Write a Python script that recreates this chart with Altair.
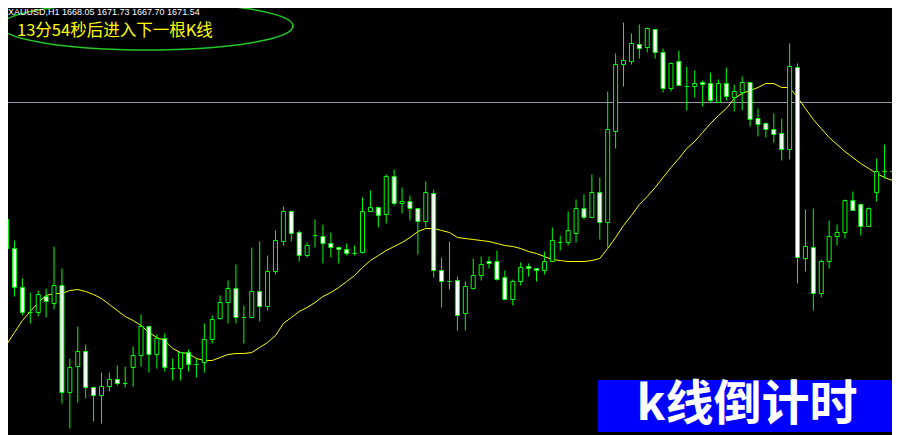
import altair as alt
import pandas as pd

# ---- data (XAUUSD H1 candles, left to right) ----
opens = [1666.1, 1663.2, 1659.3, 1656.8, 1656.8, 1658.4, 1657.7, 1659.5, 1648.8, 1651.4,
         1652.9, 1649.3, 1648.5, 1649.4, 1650.1, 1649.7, 1651.3, 1652.5, 1655.4, 1652.6,
         1654.2, 1651.2, 1651.2, 1652.8, 1651.6, 1651.8, 1654.1, 1656.2, 1657.8, 1659.2,
         1656.3, 1656.3, 1658.9, 1657.4, 1660.9, 1663.9, 1666.9, 1664.8, 1662.5, 1664.5,
         1664.4, 1663.7, 1663.3, 1663.1, 1662.7, 1662.8, 1666.9, 1667.3, 1666.6, 1670.4,
         1667.7, 1667.9, 1667.2, 1665.9, 1668.7, 1661.0, 1659.9, 1660.0, 1656.7, 1659.2,
         1660.5, 1661.9, 1661.9, 1660.3, 1658.1, 1659.9, 1661.4, 1661.2, 1661.0, 1661.9,
         1663.8, 1663.8, 1664.7, 1667.2, 1666.3, 1668.8, 1665.8, 1674.9, 1681.6, 1681.9,
         1683.6, 1683.3, 1685.1, 1682.8, 1679.2, 1681.9, 1679.4, 1679.4, 1679.8, 1679.7,
         1677.8, 1679.7, 1678.3, 1678.8, 1679.8, 1676.2, 1675.7, 1675.1, 1674.7, 1673.1,
         1681.3, 1662.2, 1663.3, 1658.7, 1661.9, 1664.4, 1664.8, 1668.0, 1667.6, 1665.4,
         1668.8, 1670.9, 1670.9]
highs = [1666.7, 1664.0, 1660.2, 1658.8, 1659.0, 1659.2, 1663.4, 1661.2, 1652.2, 1655.4,
         1653.6, 1649.4, 1650.8, 1650.8, 1651.5, 1651.4, 1653.4, 1656.6, 1655.5, 1654.6,
         1654.7, 1652.2, 1652.8, 1653.1, 1652.2, 1655.7, 1656.5, 1658.5, 1660.0, 1661.6,
         1657.5, 1663.3, 1663.9, 1662.5, 1665.0, 1667.4, 1667.0, 1665.0, 1663.8, 1666.1,
         1665.6, 1664.8, 1663.4, 1663.7, 1663.5, 1668.3, 1669.0, 1667.3, 1670.6, 1671.1,
         1669.3, 1668.5, 1667.2, 1669.9, 1669.1, 1662.3, 1663.9, 1660.4, 1659.9, 1662.2,
         1662.4, 1662.4, 1663.0, 1661.0, 1660.1, 1661.8, 1661.7, 1661.2, 1662.9, 1665.3,
         1664.5, 1666.9, 1668.1, 1668.6, 1670.6, 1670.3, 1678.9, 1682.7, 1685.8, 1684.7,
         1685.6, 1685.3, 1685.1, 1683.2, 1681.8, 1683.0, 1681.4, 1681.0, 1680.0, 1680.8,
         1680.1, 1681.3, 1679.6, 1680.4, 1679.8, 1677.2, 1675.8, 1676.7, 1676.2, 1683.7,
         1681.7, 1667.1, 1667.2, 1662.1, 1666.0, 1665.6, 1668.1, 1668.9, 1667.7, 1667.3,
         1672.2, 1673.6, 1671.7]
lows = [1663.0, 1658.4, 1656.5, 1655.7, 1656.4, 1656.3, 1657.1, 1647.7, 1645.2, 1647.8,
        1648.2, 1645.9, 1645.7, 1648.9, 1649.5, 1649.3, 1649.4, 1651.4, 1650.8, 1651.2,
        1650.9, 1650.0, 1650.0, 1650.9, 1650.3, 1650.8, 1653.7, 1656.1, 1655.7, 1655.7,
        1653.7, 1656.3, 1655.9, 1657.0, 1660.6, 1663.5, 1663.9, 1661.9, 1662.3, 1663.3,
        1661.7, 1662.3, 1661.7, 1662.5, 1662.5, 1662.7, 1666.9, 1665.3, 1665.7, 1667.5,
        1666.7, 1666.0, 1662.6, 1665.3, 1660.3, 1657.3, 1659.1, 1655.0, 1655.0, 1659.1,
        1660.0, 1661.2, 1660.0, 1658.1, 1657.5, 1659.5, 1660.4, 1659.9, 1660.6, 1661.9,
        1663.0, 1663.5, 1663.8, 1666.1, 1666.3, 1664.1, 1663.3, 1673.2, 1679.4, 1681.6,
        1682.2, 1682.8, 1682.2, 1678.8, 1678.9, 1679.5, 1677.0, 1678.3, 1677.4, 1677.8,
        1677.8, 1678.0, 1676.9, 1677.0, 1675.4, 1674.4, 1674.3, 1673.8, 1672.0, 1672.1,
        1659.7, 1660.9, 1657.0, 1658.3, 1661.2, 1663.5, 1664.2, 1667.0, 1664.5, 1665.4,
        1667.9, 1670.2, 1668.3]
closes = [1663.2, 1659.3, 1656.8, 1656.8, 1658.6, 1657.9, 1659.5, 1648.8, 1651.3, 1652.9,
          1649.3, 1648.5, 1649.4, 1650.1, 1649.7, 1649.7, 1652.5, 1655.4, 1652.6, 1654.2,
          1651.3, 1651.2, 1652.8, 1651.6, 1651.6, 1654.1, 1656.1, 1657.8, 1659.2, 1656.3,
          1656.3, 1658.9, 1657.4, 1660.9, 1664.0, 1666.9, 1664.7, 1662.5, 1663.5, 1664.5,
          1663.7, 1663.3, 1663.1, 1662.7, 1662.7, 1666.9, 1667.3, 1666.5, 1670.4, 1667.7,
          1667.9, 1667.2, 1665.9, 1668.8, 1661.0, 1659.9, 1659.9, 1656.5, 1659.4, 1660.5,
          1661.6, 1661.7, 1660.1, 1658.1, 1659.9, 1661.3, 1661.2, 1661.0, 1661.9, 1664.0,
          1663.8, 1665.0, 1667.2, 1666.3, 1668.8, 1665.8, 1675.1, 1681.6, 1682.0, 1683.7,
          1683.2, 1685.2, 1682.8, 1679.2, 1681.7, 1679.5, 1679.4, 1679.7, 1679.6, 1678.0,
          1679.7, 1678.4, 1678.9, 1679.8, 1676.1, 1675.6, 1675.1, 1674.6, 1673.1, 1681.4,
          1662.3, 1663.4, 1658.7, 1661.9, 1664.4, 1664.8, 1668.0, 1667.0, 1665.4, 1667.2,
          1670.9, 1670.9, 1670.9]
# moving average (yellow line), read at each candle
ma = [1653.6, 1654.8, 1656.0, 1656.9, 1657.8, 1658.5, 1658.7, 1658.7, 1659.0, 1659.1,
      1658.9, 1658.6, 1658.2, 1657.6, 1657.0, 1656.4, 1656.0, 1655.5, 1654.8, 1654.3,
      1654.0, 1653.2, 1652.8, 1652.7, 1652.2, 1652.0, 1652.0, 1652.3, 1652.6, 1652.7,
      1652.7, 1652.8, 1653.3, 1653.8, 1654.5, 1655.7, 1656.3, 1656.9, 1657.3, 1657.8,
      1658.4, 1658.8, 1659.3, 1659.9, 1660.5, 1661.3, 1662.0, 1662.5, 1663.0, 1663.4,
      1663.8, 1664.3, 1664.9, 1665.2, 1665.2, 1665.0, 1664.8, 1664.3, 1664.2, 1664.1,
      1664.0, 1663.9, 1663.7, 1663.5, 1663.4, 1663.2, 1662.9, 1662.7, 1662.4, 1662.1,
      1662.0, 1661.9, 1661.9, 1661.9, 1662.0, 1662.2, 1663.2, 1664.3, 1665.5, 1666.5,
      1667.6, 1668.4, 1669.3, 1670.3, 1671.3, 1672.2, 1673.2, 1673.9, 1674.8, 1675.7,
      1676.5, 1677.2, 1678.2, 1678.7, 1679.0, 1679.3, 1679.7, 1679.7, 1679.3, 1679.3,
      1678.3, 1677.2, 1676.1, 1675.2, 1674.3, 1673.6, 1672.9, 1672.3, 1671.7, 1671.2,
      1670.7, 1670.3, 1670.0]
bar_index = list(range(len(opens)))
hline_price = [1677.8]

header_text = ["XAUUSD,H1  1668.05 1671.73 1667.70 1671.54"]
countdown_text = ["13分54秒后进入下一根K线"]
badge_text = ["k线倒计时"]

df = pd.DataFrame({"i": bar_index, "open": opens, "high": highs,
                   "low": lows, "close": closes, "ma": ma})

xs = alt.Scale(domain=[0.8125, 111.3125], nice=False, zero=False)
ys = alt.Scale(domain=[1644.55, 1687.25], nice=False, zero=False)
X = alt.X("i:Q", scale=xs, axis=None)

base = alt.Chart(df)

wicks = base.mark_rule(color="#00ff00", strokeWidth=1, clip=True).encode(
    x=X, y=alt.Y("low:Q", scale=ys, axis=None), y2="high:Q")

bodies = base.mark_bar(width=4, stroke="#00ff00", strokeWidth=1, clip=True).encode(
    x=X, y=alt.Y("open:Q", scale=ys, axis=None), y2="close:Q",
    fill=alt.condition("datum.close < datum.open", alt.value("#ffffff"), alt.value("#000000")))

ma_line = base.mark_line(color="#ffff00", strokeWidth=1, clip=True).encode(
    x=X, y=alt.Y("ma:Q", scale=ys, axis=None))

hline = alt.Chart(pd.DataFrame({"p": hline_price})).mark_rule(
    color="#8f99a5", strokeWidth=1).encode(y=alt.Y("p:Q", scale=ys, axis=None))

header = alt.Chart(pd.DataFrame({"t": header_text})).mark_text(
    align="left", baseline="top", font="Liberation Sans", fontSize=9, color="#ffffff"
).encode(x=alt.value(0), y=alt.value(0), text="t:N")

ellipse_path = ("M -1 0 C -1 -0.0906 -0.552 -0.164 0 -0.164 C 0.552 -0.164 1 -0.0906 1 0 "
                "C 1 0.0906 0.552 0.164 0 0.164 C -0.552 0.164 -1 0.0906 -1 0 Z")
ellipse = alt.Chart(pd.DataFrame({"a": [0]})).mark_point(
    shape=ellipse_path, size=85264, filled=False, stroke="#22c822", strokeWidth=1.6, opacity=1
).encode(x=alt.value(139), y=alt.value(18))

countdown = alt.Chart(pd.DataFrame({"t": countdown_text})).mark_text(
    align="left", baseline="middle", font="Noto Sans CJK SC", fontSize=16.5, color="#ffff00"
).encode(x=alt.value(9), y=alt.value(22.5), text="t:N")

badge_box = alt.Chart(pd.DataFrame({"a": [0]})).mark_rect(color="#0000ff").encode(
    x=alt.value(590), x2=alt.value(890), y=alt.value(372), y2=alt.value(424))

badge = alt.Chart(pd.DataFrame({"t": badge_text})).mark_text(
    align="center", baseline="middle", font="Noto Sans CJK SC", fontWeight="bold",
    fontSize=48, color="#ffffff"
).encode(x=alt.value(739), y=alt.value(398), text="t:N")

chart = alt.layer(
    hline, ma_line, wicks, bodies, ellipse, header, countdown, badge_box, badge
).properties(
    width=884, height=427, background="#000000", padding=0, autosize="none"
).configure_view(stroke=None, fill="#000000")

chart.save("out.html", embed_options={"renderer": "svg", "actions": False})
